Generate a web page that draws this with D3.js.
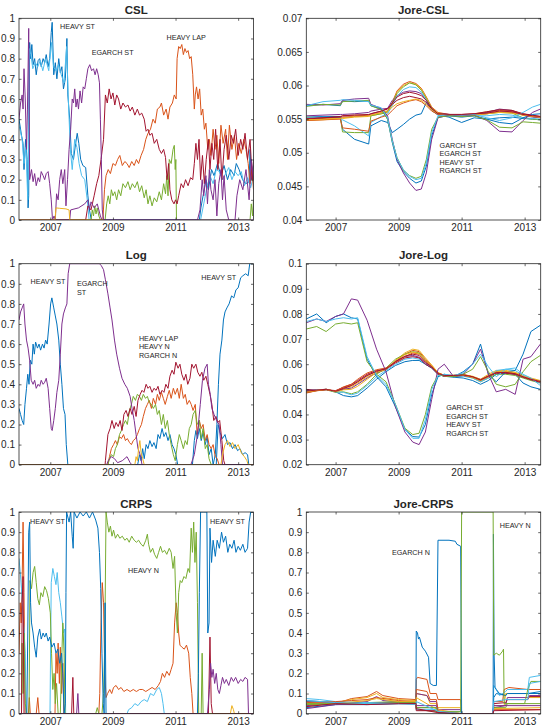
<!DOCTYPE html>
<html>
<head>
<meta charset="utf-8">
<script src="https://cdn.jsdelivr.net/npm/d3@7"></script>
<style>
  body { margin: 0; background: #fff; }
  text { font-family: "Liberation Sans", Arial, Helvetica, sans-serif; fill: #262626; }
</style>
</head>
<body>
<svg id="chart" width="546" height="728"></svg>
<script>
// ---- axis values ----
const yearTicks = [2007, 2009, 2011, 2013];
const leftSpan = [2006.0, 2013.49];
const rightSpan = [2006.07, 2013.51];
const unitTicks = [0, 0.1, 0.2, 0.3, 0.4, 0.5, 0.6, 0.7, 0.8, 0.9, 1];
const jcslTicks = [0.04, 0.045, 0.05, 0.055, 0.06, 0.065, 0.07];
const jlogTicks = [0.02, 0.03, 0.04, 0.05, 0.06, 0.07, 0.08, 0.09, 0.1];

// ---- CSL weights [year, weight] ----
const cslBlue = [[2006.0,0.50],[2006.08,0.42],[2006.13,0.38],[2006.16,0.25],[2006.21,0.40],[2006.26,0.30],[2006.29,0.06],[2006.31,0.12],[2006.34,0.88],[2006.37,0.80],[2006.41,0.87],[2006.45,0.77],[2006.5,0.80],[2006.55,0.72],[2006.61,0.79],[2006.66,0.80],[2006.71,0.76],[2006.77,0.80],[2006.82,0.78],[2006.87,0.82],[2006.93,0.76],[2006.98,0.80],[2007.03,0.93],[2007.06,0.98],[2007.11,0.72],[2007.16,0.78],[2007.21,0.70],[2007.27,0.80],[2007.32,0.73],[2007.37,0.76],[2007.42,0.65],[2007.48,0.70],[2007.53,0.90],[2007.56,0.62],[2007.62,0.50],[2007.67,0.33],[2007.74,0.30],[2007.81,0.38],[2007.86,0.43],[2007.91,0.38],[2007.97,0.30],[2008.04,0.27],[2008.13,0.26],[2008.2,0.12],[2008.25,0.05],[2008.31,0.0],[2011.76,0.0],[2011.81,0.06],[2011.88,0.12],[2011.97,0.20],[2012.05,0.15],[2012.15,0.25],[2012.23,0.22],[2012.34,0.28],[2012.45,0.22],[2012.55,0.27],[2012.66,0.20],[2012.76,0.25],[2012.87,0.22],[2012.94,0.28],[2013.03,0.25],[2013.14,0.20],[2013.24,0.18],[2013.35,0.19],[2013.38,0.35],[2013.42,0.20],[2013.49,0.27]];
const cslLightBlue = [[2006.0,0.47],[2006.1,0.40],[2006.16,0.28],[2006.22,0.36],[2006.28,0.10],[2006.33,0.85],[2006.38,0.82],[2006.44,0.75],[2006.52,0.78],[2006.6,0.76],[2006.68,0.79],[2006.76,0.74],[2006.85,0.80],[2006.95,0.74],[2007.04,0.88],[2007.1,0.76],[2007.18,0.74],[2007.26,0.77],[2007.35,0.72],[2007.44,0.68],[2007.52,0.86],[2007.58,0.58],[2007.64,0.35],[2007.7,0.25],[2007.78,0.40],[2007.85,0.36],[2007.92,0.28],[2008.0,0.22],[2008.1,0.20],[2008.18,0.10],[2008.24,0.0],[2011.8,0.0],[2011.9,0.08],[2012.0,0.16],[2012.1,0.22],[2012.2,0.18],[2012.3,0.25],[2012.4,0.24],[2012.5,0.20],[2012.6,0.23],[2012.7,0.26],[2012.8,0.20],[2012.9,0.24],[2013.0,0.22],[2013.1,0.24],[2013.2,0.17],[2013.3,0.21],[2013.4,0.16],[2013.49,0.22]];
const cslOrange = [[2006.0,0.0],[2008.68,0.0],[2008.73,0.15],[2008.78,0.22],[2008.85,0.25],[2008.92,0.23],[2009.0,0.28],[2009.08,0.27],[2009.15,0.30],[2009.22,0.32],[2009.3,0.27],[2009.38,0.29],[2009.45,0.28],[2009.52,0.26],[2009.6,0.29],[2009.68,0.27],[2009.75,0.30],[2009.82,0.28],[2009.9,0.32],[2009.98,0.35],[2010.05,0.40],[2010.12,0.43],[2010.2,0.45],[2010.28,0.50],[2010.35,0.48],[2010.42,0.55],[2010.5,0.56],[2010.55,0.58],[2010.62,0.52],[2010.7,0.55],[2010.76,0.50],[2010.82,0.56],[2010.9,0.58],[2010.96,0.62],[2011.02,0.60],[2011.05,0.80],[2011.1,0.86],[2011.15,0.85],[2011.2,0.87],[2011.25,0.82],[2011.3,0.85],[2011.35,0.83],[2011.4,0.84],[2011.45,0.80],[2011.5,0.81],[2011.55,0.72],[2011.6,0.55],[2011.63,0.62],[2011.67,0.66],[2011.72,0.60],[2011.77,0.65],[2011.82,0.52],[2011.87,0.55],[2011.92,0.45],[2011.97,0.48],[2012.03,0.35],[2012.08,0.40],[2012.13,0.32],[2012.2,0.45],[2012.26,0.35],[2012.32,0.42],[2012.38,0.28],[2012.45,0.47],[2012.52,0.38],[2012.6,0.45],[2012.66,0.30],[2012.72,0.47],[2012.8,0.35],[2012.88,0.42],[2012.95,0.30],[2013.02,0.38],[2013.1,0.33],[2013.18,0.40],[2013.25,0.35],[2013.32,0.28],[2013.38,0.18],[2013.44,0.25],[2013.49,0.15]];
const cslGreen = [[2006.0,0.0],[2008.3,0.0],[2008.34,0.05],[2008.38,0.02],[2008.42,0.07],[2008.46,0.03],[2008.5,0.06],[2008.55,0.02],[2008.6,0.0],[2008.75,0.0],[2008.8,0.08],[2008.85,0.12],[2008.9,0.08],[2008.95,0.15],[2009.0,0.12],[2009.06,0.14],[2009.12,0.10],[2009.18,0.15],[2009.25,0.12],[2009.32,0.18],[2009.4,0.16],[2009.48,0.19],[2009.55,0.15],[2009.62,0.18],[2009.7,0.16],[2009.78,0.19],[2009.85,0.14],[2009.92,0.17],[2010.0,0.11],[2010.06,0.15],[2010.12,0.08],[2010.18,0.12],[2010.25,0.07],[2010.32,0.11],[2010.4,0.09],[2010.48,0.14],[2010.55,0.10],[2010.62,0.18],[2010.68,0.13],[2010.72,0.22],[2010.76,0.12],[2010.8,0.30],[2010.86,0.28],[2010.92,0.35],[2010.96,0.37],[2010.99,0.25],[2011.01,0.30],[2011.03,0.0],[2013.38,0.0],[2013.42,0.08],[2013.46,0.02],[2013.49,0.10]];
const cslRed = [[2006.0,0.0],[2008.13,0.0],[2008.2,0.07],[2008.3,0.05],[2008.4,0.12],[2008.48,0.18],[2008.55,0.22],[2008.62,0.30],[2008.7,0.40],[2008.76,0.62],[2008.82,0.58],[2008.88,0.65],[2008.94,0.60],[2009.0,0.63],[2009.06,0.57],[2009.12,0.62],[2009.18,0.60],[2009.25,0.55],[2009.32,0.58],[2009.4,0.56],[2009.48,0.57],[2009.55,0.54],[2009.62,0.56],[2009.7,0.52],[2009.78,0.55],[2009.85,0.52],[2009.92,0.53],[2010.0,0.50],[2010.06,0.44],[2010.12,0.45],[2010.18,0.42],[2010.25,0.43],[2010.32,0.38],[2010.4,0.40],[2010.48,0.35],[2010.55,0.33],[2010.62,0.35],[2010.68,0.31],[2010.73,0.20],[2010.78,0.28],[2010.82,0.15],[2010.88,0.10],[2010.95,0.08],[2011.0,0.10],[2011.05,0.08],[2011.1,0.12],[2011.18,0.18],[2011.25,0.16],[2011.32,0.20],[2011.4,0.17],[2011.48,0.21],[2011.55,0.20],[2011.6,0.28],[2011.65,0.38],[2011.7,0.30],[2011.75,0.40],[2011.8,0.20],[2011.86,0.32],[2011.92,0.18],[2011.98,0.30],[2012.05,0.40],[2012.1,0.25],[2012.16,0.38],[2012.22,0.30],[2012.28,0.45],[2012.35,0.25],[2012.42,0.40],[2012.48,0.20],[2012.55,0.35],[2012.62,0.42],[2012.7,0.30],[2012.78,0.42],[2012.85,0.38],[2012.92,0.45],[2013.0,0.32],[2013.08,0.40],[2013.15,0.35],[2013.22,0.43],[2013.3,0.30],[2013.38,0.40],[2013.45,0.20],[2013.49,0.30]];
const cslPurpleLow = [[2006.0,0.0],[2007.62,0.0],[2007.65,0.05],[2007.9,0.06],[2008.1,0.08],[2008.2,0.10],[2008.25,0.05],[2008.3,0.09],[2008.4,0.06],[2008.5,0.08],[2008.6,0.02],[2008.65,0.0],[2013.49,0.0]];
const cslPurple = [[2006.0,0.50],[2006.05,0.58],[2006.1,0.62],[2006.13,0.55],[2006.16,0.75],[2006.2,0.60],[2006.24,0.35],[2006.27,0.55],[2006.31,0.95],[2006.34,0.20],[2006.4,0.25],[2006.45,0.19],[2006.5,0.23],[2006.55,0.17],[2006.61,0.21],[2006.66,0.19],[2006.71,0.24],[2006.77,0.22],[2006.82,0.20],[2006.87,0.23],[2006.93,0.24],[2006.98,0.18],[2007.03,0.10],[2007.07,0.0],[2007.12,0.02],[2007.16,0.0],[2007.2,0.13],[2007.25,0.10],[2007.3,0.20],[2007.35,0.25],[2007.4,0.18],[2007.46,0.25],[2007.5,0.07],[2007.55,0.20],[2007.6,0.35],[2007.65,0.45],[2007.7,0.60],[2007.74,0.58],[2007.78,0.65],[2007.82,0.56],[2007.86,0.60],[2007.9,0.55],[2007.95,0.64],[2008.0,0.58],[2008.05,0.66],[2008.1,0.65],[2008.15,0.70],[2008.2,0.75],[2008.26,0.77],[2008.32,0.74],[2008.38,0.75],[2008.43,0.72],[2008.48,0.75],[2008.53,0.72],[2008.57,0.68],[2008.6,0.50],[2008.63,0.30],[2008.66,0.05],[2008.7,0.0],[2011.7,0.0],[2011.78,0.05],[2011.85,0.20],[2011.9,0.12],[2011.97,0.22],[2012.02,0.08],[2012.08,0.25],[2012.13,0.15],[2012.2,0.10],[2012.26,0.20],[2012.32,0.02],[2012.38,0.18],[2012.45,0.25],[2012.5,0.10],[2012.55,0.22],[2012.62,0.05],[2012.7,0.0],[2012.9,0.0],[2012.96,0.12],[2013.05,0.20],[2013.15,0.15],[2013.25,0.25],[2013.35,0.10],[2013.42,0.30],[2013.49,0.20]];
const cslYellow = [[2006.0,0.0],[2007.15,0.0],[2007.18,0.06],[2007.3,0.058],[2007.5,0.055],[2007.6,0.05],[2007.62,0.0],[2008.7,0.0]];

// ---- Log weights [year, weight] ----
const logBlue = [[2006.0,0.28],[2006.05,0.25],[2006.1,0.22],[2006.15,0.20],[2006.19,0.30],[2006.24,0.38],[2006.28,0.45],[2006.32,0.40],[2006.36,0.52],[2006.41,0.50],[2006.45,0.60],[2006.49,0.55],[2006.53,0.61],[2006.59,0.58],[2006.64,0.60],[2006.69,0.57],[2006.75,0.60],[2006.8,0.58],[2006.85,0.62],[2006.9,0.60],[2006.96,0.70],[2007.01,0.80],[2007.05,0.83],[2007.11,0.78],[2007.16,0.74],[2007.21,0.70],[2007.27,0.62],[2007.32,0.50],[2007.37,0.40],[2007.42,0.28],[2007.47,0.25],[2007.51,0.10],[2007.56,0.0],[2009.79,0.0],[2009.85,0.05],[2009.9,0.02],[2009.95,0.08],[2010.0,0.03],[2010.06,0.10],[2010.12,0.08],[2010.18,0.12],[2010.25,0.09],[2010.31,0.11],[2010.38,0.08],[2010.44,0.15],[2010.5,0.13],[2010.57,0.18],[2010.63,0.14],[2010.69,0.16],[2010.76,0.12],[2010.82,0.15],[2010.89,0.10],[2010.95,0.08],[2011.01,0.05],[2011.07,0.0],[2011.54,0.0],[2011.6,0.12],[2011.65,0.17],[2011.7,0.13],[2011.76,0.18],[2011.82,0.12],[2011.88,0.16],[2011.95,0.10],[2012.01,0.14],[2012.07,0.05],[2012.14,0.08],[2012.2,0.0],[2012.27,0.05],[2012.32,0.20],[2012.37,0.40],[2012.42,0.55],[2012.48,0.62],[2012.53,0.72],[2012.58,0.76],[2012.64,0.78],[2012.71,0.80],[2012.79,0.84],[2012.86,0.83],[2012.93,0.87],[2013.0,0.88],[2013.08,0.93],[2013.15,0.94],[2013.24,0.95],[2013.32,0.94],[2013.37,1.0],[2013.49,1.0]];
const logBlueLow = [[2006.0,0.0],[2012.3,0.0],[2012.36,0.20],[2012.42,0.16],[2012.5,0.13],[2012.58,0.15],[2012.66,0.10],[2012.74,0.11],[2012.82,0.08],[2012.9,0.10],[2012.98,0.07],[2013.06,0.08],[2013.14,0.05],[2013.22,0.06],[2013.3,0.05],[2013.34,0.0],[2013.49,0.0]];
const logPurple = [[2006.0,0.72],[2006.05,0.76],[2006.1,0.78],[2006.15,0.80],[2006.19,0.70],[2006.24,0.62],[2006.29,0.58],[2006.34,0.52],[2006.39,0.42],[2006.45,0.40],[2006.5,0.42],[2006.55,0.38],[2006.61,0.40],[2006.66,0.39],[2006.71,0.42],[2006.77,0.40],[2006.82,0.41],[2006.87,0.43],[2006.93,0.38],[2006.98,0.28],[2007.03,0.18],[2007.06,0.17],[2007.11,0.22],[2007.16,0.28],[2007.21,0.36],[2007.27,0.42],[2007.32,0.55],[2007.37,0.70],[2007.42,0.75],[2007.48,0.78],[2007.53,0.80],[2007.57,0.95],[2007.62,1.0],[2008.57,1.0],[2008.63,0.99],[2008.7,0.97],[2008.76,0.92],[2008.84,0.85],[2008.91,0.78],[2008.97,0.72],[2009.05,0.62],[2009.12,0.55],[2009.21,0.48],[2009.29,0.43],[2009.38,0.40],[2009.46,0.38],[2009.55,0.34],[2009.61,0.28],[2009.68,0.22],[2009.74,0.15],[2009.8,0.08],[2009.87,0.05],[2009.93,0.0],[2011.49,0.0],[2011.6,0.05],[2011.7,0.15],[2011.79,0.30],[2011.86,0.42],[2011.94,0.48],[2012.01,0.50],[2012.05,0.40],[2012.11,0.35],[2012.16,0.28],[2012.23,0.25],[2012.31,0.22],[2012.39,0.20],[2012.45,0.10],[2012.5,0.0],[2013.49,0.0]];
const logPurpleLow = [[2006.0,0.0],[2008.8,0.0],[2008.85,0.02],[2008.95,0.04],[2009.05,0.03],[2009.15,0.01],[2009.3,0.02],[2009.45,0.04],[2009.55,0.01],[2009.6,0.0],[2013.49,0.0]];
const logRed = [[2006.0,0.0],[2008.75,0.0],[2008.76,0.02],[2008.84,0.15],[2008.91,0.18],[2008.97,0.22],[2009.04,0.18],[2009.1,0.21],[2009.17,0.19],[2009.23,0.22],[2009.29,0.17],[2009.35,0.25],[2009.42,0.27],[2009.48,0.24],[2009.55,0.28],[2009.61,0.25],[2009.68,0.29],[2009.74,0.24],[2009.8,0.32],[2009.87,0.35],[2009.93,0.37],[2009.99,0.36],[2010.06,0.40],[2010.12,0.38],[2010.18,0.39],[2010.25,0.36],[2010.31,0.38],[2010.38,0.37],[2010.44,0.39],[2010.5,0.35],[2010.57,0.37],[2010.63,0.36],[2010.69,0.40],[2010.76,0.38],[2010.82,0.44],[2010.89,0.47],[2010.95,0.45],[2011.01,0.51],[2011.08,0.48],[2011.14,0.50],[2011.2,0.45],[2011.27,0.42],[2011.33,0.45],[2011.39,0.40],[2011.46,0.43],[2011.52,0.50],[2011.58,0.48],[2011.65,0.50],[2011.71,0.46],[2011.78,0.44],[2011.84,0.46],[2011.9,0.42],[2011.97,0.44],[2012.03,0.40],[2012.1,0.35],[2012.16,0.30],[2012.22,0.22],[2012.29,0.24],[2012.35,0.21],[2012.41,0.22],[2012.48,0.12],[2012.54,0.02],[2012.58,0.0],[2013.49,0.0]];
const logOrange = [[2006.0,0.0],[2008.84,0.0],[2008.89,0.04],[2008.95,0.08],[2009.02,0.10],[2009.08,0.12],[2009.14,0.10],[2009.21,0.14],[2009.27,0.13],[2009.34,0.15],[2009.4,0.12],[2009.46,0.13],[2009.53,0.11],[2009.59,0.10],[2009.65,0.12],[2009.72,0.13],[2009.78,0.15],[2009.85,0.18],[2009.91,0.20],[2009.97,0.24],[2010.04,0.28],[2010.1,0.30],[2010.16,0.32],[2010.23,0.28],[2010.29,0.33],[2010.36,0.30],[2010.42,0.35],[2010.48,0.32],[2010.55,0.36],[2010.61,0.33],[2010.67,0.30],[2010.74,0.34],[2010.8,0.37],[2010.86,0.33],[2010.93,0.38],[2010.99,0.35],[2011.06,0.38],[2011.12,0.33],[2011.18,0.40],[2011.25,0.33],[2011.31,0.35],[2011.37,0.30],[2011.44,0.32],[2011.5,0.30],[2011.56,0.27],[2011.63,0.30],[2011.69,0.15],[2011.76,0.22],[2011.82,0.18],[2011.88,0.20],[2011.95,0.12],[2012.01,0.15],[2012.07,0.10],[2012.14,0.08],[2012.2,0.10],[2012.27,0.04],[2012.33,0.03],[2012.39,0.0],[2013.49,0.0]];
const logGreen = [[2006.0,0.0],[2008.84,0.0],[2008.89,0.03],[2008.95,0.05],[2009.02,0.04],[2009.08,0.08],[2009.14,0.10],[2009.21,0.15],[2009.27,0.17],[2009.34,0.20],[2009.4,0.22],[2009.46,0.20],[2009.53,0.27],[2009.59,0.30],[2009.65,0.34],[2009.72,0.32],[2009.78,0.35],[2009.85,0.34],[2009.91,0.32],[2009.97,0.35],[2010.04,0.33],[2010.1,0.34],[2010.16,0.31],[2010.23,0.30],[2010.29,0.28],[2010.36,0.30],[2010.42,0.25],[2010.48,0.27],[2010.55,0.20],[2010.61,0.25],[2010.67,0.18],[2010.74,0.22],[2010.8,0.15],[2010.86,0.10],[2010.93,0.05],[2010.99,0.02],[2011.06,0.10],[2011.12,0.15],[2011.18,0.12],[2011.25,0.08],[2011.31,0.12],[2011.37,0.10],[2011.44,0.18],[2011.5,0.20],[2011.56,0.25],[2011.63,0.27],[2011.69,0.20],[2011.76,0.22],[2011.82,0.13],[2011.88,0.18],[2011.95,0.08],[2012.01,0.10],[2012.07,0.03],[2012.14,0.0],[2013.49,0.0]];
const logYellow = [[2006.0,0.0],[2009.7,0.0],[2009.74,0.04],[2009.78,0.02],[2009.82,0.08],[2009.86,0.12],[2009.9,0.06],[2009.95,0.03],[2010.0,0.0],[2012.45,0.0],[2012.5,0.05],[2012.58,0.10],[2012.66,0.12],[2012.74,0.09],[2012.82,0.11],[2012.9,0.08],[2013.0,0.10],[2013.1,0.06],[2013.2,0.04],[2013.28,0.02],[2013.32,0.0],[2013.49,0.0]];

// ---- CRPS weights [year, weight] ----
const crpsOrange = [[2006.0,0.30],[2006.04,0.55],[2006.07,0.45],[2006.1,0.65],[2006.13,0.95],[2006.16,0.60],[2006.2,0.0],[2006.3,0.0],[2006.33,0.08],[2006.36,0.0],[2006.55,0.0],[2006.6,0.08],[2006.64,0.0],[2007.15,0.0],[2007.18,0.30],[2007.22,0.20],[2007.25,0.35],[2007.29,0.15],[2007.32,0.33],[2007.36,0.10],[2007.4,0.25],[2007.43,0.0],[2008.55,0.0],[2008.58,0.10],[2008.62,0.45],[2008.66,0.65],[2008.7,0.55],[2008.74,0.20],[2008.78,0.08],[2008.83,0.10],[2008.9,0.12],[2008.96,0.10],[2009.02,0.13],[2009.1,0.14],[2009.18,0.12],[2009.26,0.13],[2009.35,0.11],[2009.45,0.12],[2009.55,0.11],[2009.65,0.12],[2009.75,0.11],[2009.85,0.12],[2009.95,0.12],[2010.05,0.11],[2010.15,0.12],[2010.25,0.13],[2010.35,0.12],[2010.45,0.14],[2010.52,0.16],[2010.58,0.20],[2010.65,0.18],[2010.72,0.21],[2010.8,0.19],[2010.86,0.22],[2010.92,0.25],[2010.97,0.45],[2011.02,0.55],[2011.06,0.50],[2011.1,0.40],[2011.14,0.34],[2011.2,0.33],[2011.28,0.32],[2011.35,0.34],[2011.42,0.30],[2011.47,0.18],[2011.52,0.10],[2011.56,0.0],[2013.49,0.0]];
const crpsRed = [[2006.0,0.0],[2006.08,0.0],[2006.1,0.55],[2006.13,0.68],[2006.16,0.0],[2007.68,0.0],[2007.72,0.18],[2007.75,0.0],[2012.05,0.0],[2012.1,0.38],[2012.14,0.05],[2012.18,0.0],[2013.49,0.0]];
const crpsLightBlue = [[2006.0,0.77],[2006.04,0.70],[2006.08,0.62],[2006.12,0.50],[2006.16,0.42],[2006.2,0.30],[2006.23,0.0],[2006.99,0.0],[2007.03,0.65],[2007.08,0.72],[2007.13,0.68],[2007.18,0.64],[2007.22,0.70],[2007.27,0.60],[2007.32,0.55],[2007.37,0.48],[2007.42,0.40],[2007.46,0.42],[2007.49,0.0],[2009.45,0.0],[2009.5,0.02],[2009.6,0.03],[2009.7,0.05],[2009.8,0.04],[2009.9,0.06],[2010.0,0.07],[2010.1,0.06],[2010.2,0.10],[2010.3,0.09],[2010.4,0.12],[2010.48,0.13],[2010.55,0.10],[2010.6,0.05],[2010.64,0.0],[2013.49,0.0]];
const crpsGreen = [[2006.0,0.0],[2006.08,0.0],[2006.1,0.35],[2006.13,0.10],[2006.16,0.40],[2006.2,0.05],[2006.25,0.0],[2006.32,0.0],[2006.35,0.66],[2006.4,0.62],[2006.45,0.70],[2006.5,0.73],[2006.55,0.65],[2006.6,0.57],[2006.65,0.54],[2006.7,0.60],[2006.76,0.58],[2006.82,0.63],[2006.88,0.61],[2006.94,0.57],[2007.0,0.50],[2007.04,0.30],[2007.08,0.12],[2007.12,0.20],[2007.16,0.05],[2007.2,0.15],[2007.25,0.0],[2007.32,0.0],[2007.36,0.25],[2007.4,0.45],[2007.44,0.30],[2007.47,0.0],[2008.45,0.0],[2008.5,0.03],[2008.55,0.0],[2008.65,0.0],[2008.7,0.10],[2008.74,0.35],[2008.78,1.0],[2008.82,0.95],[2008.87,0.90],[2008.92,0.93],[2008.97,0.88],[2009.02,0.91],[2009.08,0.87],[2009.15,0.89],[2009.22,0.87],[2009.3,0.88],[2009.38,0.86],[2009.45,0.87],[2009.52,0.85],[2009.6,0.88],[2009.68,0.86],[2009.75,0.85],[2009.82,0.86],[2009.9,0.84],[2009.97,0.83],[2010.05,0.86],[2010.1,0.89],[2010.14,0.84],[2010.2,0.80],[2010.27,0.82],[2010.33,0.79],[2010.4,0.77],[2010.46,0.80],[2010.52,0.83],[2010.58,0.80],[2010.65,0.81],[2010.72,0.79],[2010.8,0.82],[2010.86,0.80],[2010.92,0.72],[2010.97,0.78],[2011.02,0.50],[2011.06,0.40],[2011.1,0.60],[2011.15,0.66],[2011.2,0.65],[2011.27,0.68],[2011.33,0.67],[2011.4,0.72],[2011.45,0.70],[2011.5,0.92],[2011.54,0.80],[2011.58,0.95],[2011.62,0.75],[2011.66,0.90],[2011.7,0.55],[2011.74,0.0],[2011.82,0.0],[2011.85,0.30],[2011.88,0.0],[2013.49,0.0]];
const crpsBlue = [[2006.0,0.0],[2006.25,0.0],[2006.28,0.40],[2006.31,0.90],[2006.34,0.95],[2006.37,0.55],[2006.4,0.45],[2006.45,0.40],[2006.5,0.33],[2006.55,0.28],[2006.6,0.38],[2006.66,0.42],[2006.71,0.37],[2006.77,0.40],[2006.82,0.38],[2006.87,0.40],[2006.93,0.36],[2006.98,0.38],[2007.05,0.33],[2007.12,0.35],[2007.18,0.30],[2007.24,0.32],[2007.3,0.25],[2007.36,0.30],[2007.4,0.20],[2007.44,0.0],[2007.48,0.05],[2007.5,0.60],[2007.52,1.0],[2007.6,0.95],[2007.65,1.0],[2007.7,0.88],[2007.73,0.82],[2007.76,1.0],[2007.85,0.97],[2007.95,1.0],[2008.05,0.98],[2008.15,1.0],[2008.25,0.97],[2008.35,1.0],[2008.45,0.96],[2008.52,0.92],[2008.57,0.80],[2008.61,0.62],[2008.65,0.30],[2008.69,0.05],[2008.72,0.0],[2008.75,0.55],[2008.78,0.0],[2011.7,0.0],[2011.73,0.20],[2011.76,0.60],[2011.8,1.0],[2011.9,1.0],[2012.0,1.0],[2012.03,0.40],[2012.07,0.45],[2012.1,0.92],[2012.15,0.75],[2012.2,0.86],[2012.27,0.78],[2012.33,0.86],[2012.4,0.82],[2012.47,0.90],[2012.53,0.85],[2012.6,0.88],[2012.67,0.80],[2012.73,0.84],[2012.8,0.82],[2012.87,0.86],[2012.93,0.80],[2013.0,0.83],[2013.07,0.81],[2013.15,0.84],[2013.22,0.80],[2013.3,0.82],[2013.35,0.95],[2013.4,1.0],[2013.49,1.0]];
const crpsYellow = [[2006.0,0.0],[2012.75,0.0],[2012.8,0.04],[2012.85,0.02],[2012.88,0.0],[2013.49,0.0]];
const crpsPurple = [[2006.0,0.0],[2007.84,0.0],[2007.88,0.10],[2007.91,0.0],[2012.02,0.0],[2012.08,0.12],[2012.12,0.25],[2012.16,0.18],[2012.2,0.22],[2012.25,0.15],[2012.3,0.20],[2012.35,0.12],[2012.4,0.10],[2012.45,0.14],[2012.5,0.18],[2012.56,0.15],[2012.62,0.17],[2012.7,0.14],[2012.78,0.18],[2012.85,0.16],[2012.92,0.18],[2013.0,0.15],[2013.08,0.17],[2013.15,0.16],[2013.22,0.18],[2013.3,0.17],[2013.33,0.0],[2013.49,0.0]];

// ---- Jore-CSL: common dates, one weight list per model ----
const jcslDates = [2006.07,2006.6,2007.15,2007.22,2007.6,2008.05,2008.12,2008.45,2008.65,2008.8,2008.95,2009.15,2009.35,2009.55,2009.72,2009.88,2010.05,2010.25,2010.6,2011.0,2011.4,2011.8,2012.2,2012.6,2012.95,2013.25,2013.5];
const jcslBlue = [0.0553,0.0554,0.0554,0.0535,0.0520,0.0513,0.0540,0.0548,0.0545,0.0530,0.0535,0.0542,0.0550,0.0556,0.0558,0.0575,0.0563,0.0556,0.0553,0.0545,0.0552,0.0550,0.0552,0.0553,0.0551,0.0550,0.0549];
const jcslOrange = [0.0550,0.0551,0.0552,0.0555,0.0556,0.0556,0.0556,0.0560,0.0562,0.0575,0.0592,0.0602,0.0606,0.0603,0.0596,0.0583,0.0568,0.0560,0.0557,0.0556,0.0557,0.0560,0.0563,0.0562,0.0558,0.0555,0.0553];
const jcslYellow = [0.0548,0.0549,0.0551,0.0551,0.0553,0.0554,0.0555,0.0558,0.0560,0.0573,0.0590,0.0600,0.0604,0.0602,0.0595,0.0582,0.0567,0.0559,0.0556,0.0556,0.0558,0.0561,0.0564,0.0563,0.0557,0.0554,0.0552];
const jcslPurple = [0.0555,0.0556,0.0557,0.0557,0.0558,0.0560,0.0562,0.0565,0.0566,0.0578,0.0585,0.0590,0.0592,0.0591,0.0588,0.0578,0.0565,0.0558,0.0557,0.0556,0.0557,0.0560,0.0565,0.0563,0.0556,0.0553,0.0552];
const jcslGreen = [0.0553,0.0552,0.0553,0.0531,0.0530,0.0530,0.0555,0.0558,0.0561,0.0574,0.0588,0.0598,0.0604,0.0601,0.0593,0.0580,0.0566,0.0558,0.0556,0.0555,0.0557,0.0558,0.0560,0.0559,0.0552,0.0550,0.0549];
const jcslLightBlue = [0.0552,0.0553,0.0552,0.0549,0.0540,0.0525,0.0545,0.0554,0.0558,0.0570,0.0584,0.0594,0.0598,0.0597,0.0590,0.0578,0.0565,0.0557,0.0555,0.0554,0.0555,0.0555,0.0557,0.0556,0.0552,0.0551,0.0550];
const jcslRed = [0.0550,0.0552,0.0553,0.0553,0.0554,0.0556,0.0558,0.0562,0.0566,0.0572,0.0578,0.0582,0.0584,0.0582,0.0580,0.0575,0.0565,0.0558,0.0557,0.0557,0.0558,0.0561,0.0564,0.0563,0.0558,0.0556,0.0554];
const jcslBlueST = [0.0570,0.0572,0.0570,0.0577,0.0576,0.0577,0.0570,0.0565,0.0550,0.0515,0.0487,0.0472,0.0462,0.0455,0.0458,0.0480,0.0525,0.0553,0.0555,0.0553,0.0555,0.0550,0.0545,0.0543,0.0552,0.0557,0.0558];
const jcslOrange2 = [0.0548,0.0549,0.0550,0.0537,0.0535,0.0532,0.0547,0.0553,0.0556,0.0563,0.0570,0.0574,0.0577,0.0579,0.0576,0.0570,0.0562,0.0557,0.0556,0.0555,0.0556,0.0558,0.0561,0.0560,0.0556,0.0554,0.0553];
const jcslYellow2 = [0.0549,0.0550,0.0551,0.0552,0.0554,0.0555,0.0556,0.0560,0.0562,0.0568,0.0573,0.0576,0.0578,0.0580,0.0578,0.0572,0.0564,0.0558,0.0556,0.0555,0.0556,0.0558,0.0560,0.0559,0.0556,0.0554,0.0553];
const jcslPurpleST = [0.0572,0.0571,0.0573,0.0578,0.0580,0.0581,0.0572,0.0566,0.0555,0.0520,0.0490,0.0470,0.0455,0.0444,0.0446,0.0470,0.0520,0.0552,0.0556,0.0555,0.0556,0.0548,0.0532,0.0531,0.0548,0.0560,0.0565];
const jcslGreenST = [0.0569,0.0572,0.0571,0.0576,0.0577,0.0578,0.0570,0.0564,0.0550,0.0517,0.0493,0.0474,0.0466,0.0462,0.0465,0.0490,0.0535,0.0553,0.0555,0.0554,0.0555,0.0549,0.0538,0.0537,0.0546,0.0545,0.0544];
const jcslLightBlueST = [0.0570,0.0576,0.0578,0.0579,0.0578,0.0576,0.0571,0.0567,0.0552,0.0518,0.0492,0.0475,0.0465,0.0460,0.0462,0.0485,0.0530,0.0555,0.0557,0.0556,0.0557,0.0552,0.0548,0.0552,0.0560,0.0568,0.0572];
const jcslRed2 = [0.0551,0.0552,0.0554,0.0555,0.0556,0.0557,0.0558,0.0562,0.0565,0.0574,0.0583,0.0588,0.0590,0.0588,0.0585,0.0578,0.0566,0.0558,0.0557,0.0557,0.0558,0.0559,0.0562,0.0561,0.0557,0.0555,0.0554];

// ---- Jore-Log ----
const jlogDates = [2006.07,2006.4,2006.7,2007.0,2007.25,2007.5,2007.7,2008.0,2008.3,2008.6,2008.9,2009.2,2009.45,2009.65,2009.85,2010.05,2010.25,2010.45,2010.75,2011.05,2011.35,2011.6,2011.85,2012.1,2012.4,2012.7,2012.95,2013.2,2013.5];
const jlogBlueST = [0.0780,0.0800,0.0765,0.0790,0.0800,0.0785,0.0780,0.0620,0.0550,0.0510,0.0430,0.0340,0.0312,0.0310,0.0360,0.0480,0.0550,0.0560,0.0550,0.0570,0.0600,0.0680,0.0560,0.0530,0.0570,0.0575,0.0640,0.0730,0.0755];
const jlogOrange = [0.0485,0.0495,0.0500,0.0490,0.0505,0.0515,0.0530,0.0555,0.0570,0.0580,0.0610,0.0640,0.0655,0.0650,0.0620,0.0595,0.0565,0.0555,0.0555,0.0560,0.0550,0.0540,0.0555,0.0570,0.0570,0.0565,0.0550,0.0540,0.0530];
const jlogYellow = [0.0490,0.0498,0.0500,0.0492,0.0500,0.0510,0.0525,0.0550,0.0565,0.0578,0.0615,0.0645,0.0660,0.0655,0.0625,0.0597,0.0567,0.0556,0.0556,0.0558,0.0552,0.0540,0.0560,0.0575,0.0575,0.0568,0.0555,0.0545,0.0535];
const jlogPurpleST = [0.0765,0.0780,0.0770,0.0790,0.0800,0.0860,0.0855,0.0775,0.0660,0.0570,0.0430,0.0330,0.0290,0.0280,0.0330,0.0460,0.0580,0.0600,0.0550,0.0560,0.0600,0.0660,0.0560,0.0490,0.0500,0.0480,0.0620,0.0630,0.0680];
const jlogGreenST = [0.0740,0.0750,0.0730,0.0760,0.0765,0.0760,0.0765,0.0610,0.0560,0.0530,0.0440,0.0345,0.0320,0.0325,0.0400,0.0510,0.0555,0.0555,0.0550,0.0560,0.0580,0.0630,0.0570,0.0520,0.0510,0.0520,0.0570,0.0610,0.0635];
const jlogLightBlueST = [0.0770,0.0780,0.0770,0.0780,0.0785,0.0780,0.0785,0.0630,0.0555,0.0520,0.0440,0.0340,0.0305,0.0305,0.0380,0.0500,0.0555,0.0560,0.0555,0.0565,0.0600,0.0640,0.0590,0.0550,0.0580,0.0585,0.0560,0.0545,0.0515];
const jlogRed = [0.0500,0.0495,0.0498,0.0495,0.0508,0.0520,0.0535,0.0560,0.0575,0.0580,0.0605,0.0625,0.0630,0.0625,0.0600,0.0585,0.0560,0.0552,0.0552,0.0555,0.0548,0.0535,0.0550,0.0565,0.0565,0.0560,0.0548,0.0538,0.0528];
const jlogBlue = [0.0498,0.0496,0.0500,0.0490,0.0475,0.0470,0.0475,0.0505,0.0540,0.0570,0.0595,0.0610,0.0615,0.0615,0.0600,0.0585,0.0560,0.0552,0.0548,0.0545,0.0535,0.0520,0.0535,0.0560,0.0565,0.0560,0.0525,0.0510,0.0500];
const jlogOrange2 = [0.0487,0.0494,0.0499,0.0493,0.0510,0.0520,0.0540,0.0565,0.0578,0.0585,0.0608,0.0630,0.0645,0.0640,0.0612,0.0590,0.0565,0.0556,0.0556,0.0558,0.0550,0.0538,0.0553,0.0568,0.0568,0.0562,0.0550,0.0540,0.0532];
const jlogYellow2 = [0.0490,0.0496,0.0500,0.0491,0.0498,0.0500,0.0512,0.0540,0.0568,0.0580,0.0615,0.0638,0.0648,0.0642,0.0612,0.0592,0.0563,0.0554,0.0553,0.0556,0.0547,0.0535,0.0550,0.0570,0.0572,0.0566,0.0552,0.0542,0.0532];
const jlogPurple = [0.0495,0.0498,0.0500,0.0490,0.0500,0.0505,0.0520,0.0545,0.0565,0.0580,0.0612,0.0630,0.0635,0.0628,0.0605,0.0588,0.0562,0.0555,0.0553,0.0555,0.0548,0.0538,0.0552,0.0563,0.0563,0.0560,0.0550,0.0540,0.0530];
const jlogGreen = [0.0488,0.0495,0.0498,0.0488,0.0490,0.0482,0.0490,0.0520,0.0560,0.0585,0.0620,0.0640,0.0650,0.0645,0.0615,0.0590,0.0560,0.0552,0.0552,0.0555,0.0545,0.0530,0.0545,0.0560,0.0560,0.0555,0.0545,0.0535,0.0525];
const jlogLightBlue = [0.0492,0.0497,0.0500,0.0490,0.0488,0.0478,0.0485,0.0515,0.0550,0.0575,0.0600,0.0620,0.0625,0.0620,0.0600,0.0585,0.0560,0.0553,0.0550,0.0552,0.0545,0.0530,0.0545,0.0575,0.0580,0.0575,0.0555,0.0540,0.0525];
const jlogRed2 = [0.0493,0.0497,0.0500,0.0492,0.0503,0.0515,0.0530,0.0555,0.0572,0.0582,0.0610,0.0632,0.0640,0.0635,0.0608,0.0590,0.0563,0.0555,0.0555,0.0557,0.0550,0.0537,0.0552,0.0567,0.0567,0.0562,0.0550,0.0540,0.0531];

// ---- Jore-CRPS [year, weight] ----
const jcrpsEgarchN = [[2006.07,0.065],[2007.0,0.055],[2008.0,0.05],[2009.0,0.05],[2009.55,0.05],[2009.56,0.41],[2009.6,0.40],[2009.63,0.37],[2009.66,0.38],[2009.75,0.33],[2009.85,0.31],[2009.95,0.28],[2010.0,0.15],[2010.1,0.14],[2010.2,0.14],[2010.25,0.86],[2010.6,0.86],[2010.8,0.855],[2010.85,0.84],[2010.97,0.83],[2011.0,0.0],[2012.0,0.0],[2012.01,0.89],[2012.03,0.30],[2012.06,0.13],[2012.1,0.12],[2012.2,0.10],[2012.4,0.09],[2012.45,0.10],[2013.51,0.10]];
const jcrpsOrange = [[2006.07,0.045],[2007.0,0.05],[2007.5,0.075],[2008.0,0.085],[2008.3,0.11],[2008.5,0.09],[2009.0,0.075],[2009.55,0.07],[2009.56,0.17],[2009.6,0.18],[2009.9,0.17],[2010.0,0.10],[2010.2,0.10],[2010.25,0.07],[2010.97,0.07],[2011.0,0.0],[2012.0,0.0],[2012.02,0.06],[2012.3,0.06],[2012.35,0.12],[2012.5,0.13],[2013.1,0.12],[2013.51,0.12]];
const jcrpsYellow = [[2006.07,0.035],[2007.0,0.055],[2007.5,0.07],[2008.0,0.08],[2008.3,0.10],[2008.5,0.08],[2009.0,0.07],[2009.55,0.065],[2009.56,0.10],[2009.9,0.09],[2010.0,0.05],[2010.2,0.05],[2010.25,0.03],[2010.97,0.03],[2011.0,0.0],[2012.0,0.0],[2012.02,0.04],[2012.35,0.04],[2012.4,0.10],[2013.1,0.10],[2013.15,0.08],[2013.51,0.08]];
const jcrpsPurple = [[2006.07,0.04],[2007.0,0.05],[2008.0,0.06],[2008.3,0.085],[2008.5,0.065],[2009.0,0.06],[2009.55,0.06],[2009.56,0.10],[2009.9,0.09],[2010.0,0.06],[2010.2,0.06],[2010.25,0.02],[2010.97,0.02],[2011.0,0.0],[2012.0,0.0],[2012.02,0.03],[2012.4,0.04],[2012.45,0.08],[2013.1,0.08],[2013.15,0.09],[2013.51,0.09]];
const jcrpsHeavyN = [[2006.07,0.05],[2007.0,0.05],[2008.0,0.05],[2009.0,0.055],[2009.55,0.055],[2009.56,0.03],[2010.2,0.03],[2010.25,0.01],[2010.97,0.01],[2011.0,1.0],[2012.0,1.0],[2012.02,0.29],[2012.1,0.30],[2012.2,0.29],[2012.3,0.31],[2012.33,0.32],[2012.35,0.05],[2013.0,0.05],[2013.1,0.12],[2013.2,0.16],[2013.51,0.16]];
const jcrpsLightBlue = [[2006.07,0.075],[2006.5,0.07],[2007.0,0.06],[2008.0,0.055],[2009.0,0.055],[2009.55,0.05],[2009.56,0.02],[2010.2,0.02],[2010.25,0.01],[2010.97,0.01],[2011.0,0.0],[2012.0,0.0],[2012.02,0.14],[2012.1,0.12],[2012.2,0.09],[2012.4,0.11],[2012.45,0.12],[2013.1,0.12],[2013.15,0.18],[2013.51,0.19]];
const jcrpsRed = [[2006.07,0.06],[2007.0,0.055],[2008.0,0.05],[2009.0,0.05],[2009.55,0.05],[2009.56,0.015],[2010.2,0.015],[2010.25,0.005],[2011.0,0.0],[2012.0,0.0],[2012.02,0.05],[2012.4,0.055],[2012.45,0.07],[2013.1,0.07],[2013.15,0.085],[2013.51,0.085]];
const jcrpsBlue = [[2006.07,0.03],[2007.0,0.045],[2008.0,0.045],[2009.0,0.05],[2009.55,0.05],[2009.56,0.03],[2010.2,0.03],[2010.25,0.01],[2011.0,0.0],[2012.0,0.0],[2012.02,0.08],[2012.1,0.10],[2012.4,0.09],[2012.45,0.10],[2013.1,0.10],[2013.51,0.11]];
const jcrpsOrange2 = [[2006.07,0.055],[2007.0,0.06],[2007.5,0.065],[2008.0,0.07],[2008.3,0.08],[2009.0,0.065],[2009.55,0.06],[2009.56,0.12],[2009.9,0.11],[2010.0,0.07],[2010.2,0.07],[2010.25,0.015],[2011.0,0.0],[2012.0,0.0],[2012.02,0.02],[2013.51,0.02]];
const jcrpsYellow2 = [[2006.07,0.05],[2007.0,0.05],[2008.0,0.065],[2008.3,0.075],[2009.0,0.06],[2009.55,0.06],[2009.56,0.08],[2010.0,0.04],[2010.25,0.02],[2011.0,0.0],[2012.0,0.0],[2012.02,0.025],[2013.51,0.03]];
const jcrpsPurple2 = [[2006.07,0.025],[2007.0,0.045],[2008.0,0.05],[2009.0,0.055],[2009.55,0.055],[2009.56,0.04],[2010.2,0.04],[2010.25,0.008],[2011.0,0.0],[2012.0,0.0],[2012.02,0.04],[2013.51,0.04]];
const jcrpsGreen2 = [[2006.07,0.045],[2007.0,0.05],[2008.0,0.055],[2009.0,0.06],[2009.55,0.06],[2009.56,0.02],[2010.25,0.01],[2011.0,0.0],[2012.0,0.0],[2012.02,0.03],[2012.4,0.03],[2012.45,0.05],[2013.51,0.05]];
const jcrpsLightBlue2 = [[2006.07,0.065],[2007.0,0.055],[2008.0,0.05],[2009.0,0.05],[2009.55,0.045],[2009.56,0.06],[2010.0,0.03],[2010.25,0.012],[2011.0,0.0],[2012.0,0.0],[2012.02,0.06],[2012.4,0.07],[2013.1,0.07],[2013.15,0.15],[2013.51,0.16]];
const jcrpsRed2 = [[2006.07,0.035],[2007.0,0.05],[2008.0,0.045],[2009.0,0.05],[2009.55,0.05],[2009.56,0.025],[2010.25,0.005],[2011.0,0.0],[2012.0,0.0],[2012.02,0.015],[2013.51,0.02]];

// MATLAB default line colours
const col = { blue: "#0072BD", orange: "#D95319", yellow: "#EDB120", purple: "#7E2F8E",
              green: "#77AC30", lightblue: "#4DBEEE", red: "#A2142F" };

const onDates = (dates, vals) => d3.zip(dates, vals);

const panels = [
  { title: "CSL", left: 19, top: 18.3, w: 234.5, h: 201.7, xDomain: leftSpan, yDomain: [0, 1], yTicks: unitTicks,
    series: [[cslBlue, col.blue], [cslLightBlue, col.lightblue], [cslOrange, col.orange], [cslGreen, col.green],
             [cslRed, col.red], [cslPurpleLow, col.purple], [cslPurple, col.purple], [cslYellow, col.yellow]],
    notes: [{ at: [2007.31, 0.96], lines: ["HEAVY ST"] }, { at: [2008.32, 0.83], lines: ["EGARCH ST"] },
            { at: [2010.71, 0.907], lines: ["HEAVY LAP"] }] },
  { title: "Jore-CSL", left: 306.3, top: 18.3, w: 234.4, h: 201.7, xDomain: rightSpan, yDomain: [0.04, 0.07], yTicks: jcslTicks,
    series: [[jcslBlue, col.blue], [jcslOrange, col.orange], [jcslYellow, col.yellow], [jcslPurple, col.purple],
             [jcslGreen, col.green], [jcslLightBlue, col.lightblue], [jcslRed, col.red], [jcslBlueST, col.blue],
             [jcslOrange2, col.orange], [jcslYellow2, col.yellow], [jcslPurpleST, col.purple], [jcslGreenST, col.green],
             [jcslLightBlueST, col.lightblue], [jcslRed2, col.red]].map(([v, c]) => [onDates(jcslDates, v), c]),
    notes: [{ at: [2010.3, 0.0511], lines: ["GARCH ST", "EGARCH ST", "HEAVY ST", "RGARCH ST"] }] },
  { title: "Log", left: 19, top: 263.7, w: 234.5, h: 201, xDomain: leftSpan, yDomain: [0, 1], yTicks: unitTicks,
    series: [[logBlue, col.blue], [logBlueLow, col.blue], [logOrange, col.orange], [logGreen, col.green],
             [logRed, col.red], [logPurpleLow, col.purple], [logPurple, col.purple], [logYellow, col.yellow]],
    notes: [{ at: [2006.37, 0.912], lines: ["HEAVY ST"] }, { at: [2007.85, 0.90], lines: ["EGARCH", "ST"] },
            { at: [2011.82, 0.93], lines: ["HEAVY ST"] },
            { at: [2009.83, 0.629], lines: ["HEAVY LAP", "HEAVY N", "RGARCH N"] }] },
  { title: "Jore-Log", left: 306.3, top: 263.7, w: 234.4, h: 201, xDomain: rightSpan, yDomain: [0.02, 0.1], yTicks: jlogTicks,
    series: [[jlogBlue, col.blue], [jlogOrange, col.orange], [jlogYellow, col.yellow], [jlogPurple, col.purple],
             [jlogGreen, col.green], [jlogLightBlue, col.lightblue], [jlogRed, col.red], [jlogBlueST, col.blue],
             [jlogOrange2, col.orange], [jlogYellow2, col.yellow], [jlogPurpleST, col.purple], [jlogGreenST, col.green],
             [jlogLightBlueST, col.lightblue], [jlogRed2, col.red]].map(([v, c]) => [onDates(jlogDates, v), c]),
    notes: [{ at: [2010.51, 0.0426], lines: ["GARCH ST", "EGARCH ST", "HEAVY ST", "RGARCH ST"] }] },
  { title: "CRPS", left: 19, top: 512, w: 234.5, h: 201.7, xDomain: leftSpan, yDomain: [0, 1], yTicks: unitTicks,
    series: [[crpsOrange, col.orange], [crpsLightBlue, col.lightblue], [crpsGreen, col.green], [crpsBlue, col.blue],
             [crpsYellow, col.yellow], [crpsRed, col.red], [crpsPurple, col.purple]],
    notes: [{ at: [2006.35, 0.955], lines: ["HEAVY ST"] }, { at: [2012.1, 0.955], lines: ["HEAVY ST"] },
            { at: [2009.48, 0.711], lines: ["HEAVY N"] }] },
  { title: "Jore-CRPS", left: 306.3, top: 512, w: 234.4, h: 201.7, xDomain: rightSpan, yDomain: [0, 1], yTicks: unitTicks,
    series: [[jcrpsBlue, col.blue], [jcrpsOrange, col.orange], [jcrpsYellow, col.yellow], [jcrpsPurple, col.purple],
             [jcrpsGreen2, col.green], [jcrpsLightBlue, col.lightblue], [jcrpsRed, col.red], [jcrpsEgarchN, col.blue],
             [jcrpsOrange2, col.orange], [jcrpsYellow2, col.yellow], [jcrpsPurple2, col.purple], [jcrpsHeavyN, col.green],
             [jcrpsLightBlue2, col.lightblue], [jcrpsRed2, col.red]],
    notes: [{ at: [2008.79, 0.80], lines: ["EGARCH N"] }, { at: [2012.21, 0.934], lines: ["HEAVY N"] }] }
];

const svg = d3.select("#chart");
const ink = "#262626";
const tickLen = 2.5;
const fmt = v => String(+v.toFixed(3));

panels.forEach((p, i) => {
  const g = svg.append("g").attr("transform", `translate(${p.left},${p.top})`);

  const x = d3.scaleLinear().domain(p.xDomain).range([0, p.w]);
  const y = d3.scaleLinear().domain(p.yDomain).range([p.h, 0]);

  // clip lines to the axes box
  g.append("clipPath").attr("id", "clip" + i)
    .append("rect").attr("width", p.w).attr("height", p.h);

  const line = d3.line().x(d => x(d[0])).y(d => y(d[1]));

  g.append("g").attr("clip-path", `url(#clip${i})`)
    .selectAll("path")
    .data(p.series)
    .enter()
    .append("path")
    .attr("fill", "none")
    .attr("stroke", d => d[1])
    .attr("stroke-width", 1)
    .attr("stroke-linejoin", "round")
    .attr("d", d => line(d[0]));

  // axes, ticks pointing inward like MATLAB
  const styleAxis = sel => {
    sel.select(".domain").remove();
    sel.selectAll("line").attr("stroke", ink).attr("stroke-width", 0.7);
    sel.selectAll("text").attr("fill", ink).style("font-size", "10px")
      .style("font-family", '"Liberation Sans", Arial, Helvetica, sans-serif');
  };

  g.append("g")
    .call(d3.axisLeft(y).tickValues(p.yTicks).tickFormat(fmt).tickSize(-tickLen).tickPadding(4))
    .call(styleAxis);
  g.append("g").attr("transform", `translate(${p.w},0)`)
    .call(d3.axisRight(y).tickValues(p.yTicks).tickFormat("").tickSize(-tickLen))
    .call(styleAxis);
  g.append("g").attr("transform", `translate(0,${p.h})`)
    .call(d3.axisBottom(x).tickValues(yearTicks).tickFormat(d3.format("d")).tickSize(-tickLen).tickPadding(4))
    .call(styleAxis);
  g.append("g")
    .call(d3.axisTop(x).tickValues(yearTicks).tickFormat("").tickSize(-tickLen))
    .call(styleAxis);

  g.append("rect")
    .attr("width", p.w).attr("height", p.h)
    .attr("fill", "none").attr("stroke", ink).attr("stroke-width", 0.8);

  // title
  g.append("text")
    .attr("x", p.w / 2)
    .attr("y", -8.5)
    .attr("text-anchor", "middle")
    .attr("dominant-baseline", "central")
    .attr("font-weight", "bold")
    .style("font-size", "11.5px")
    .text(p.title);

  // model annotations
  p.notes.forEach(n => {
    n.lines.forEach((s, k) => {
      g.append("text")
        .attr("x", x(n.at[0]))
        .attr("y", y(n.at[1]) + k * 8.4)
        .attr("dominant-baseline", "central")
        .style("font-size", "7.2px")
        .text(s);
    });
  });
});
</script>
</body>
</html>
